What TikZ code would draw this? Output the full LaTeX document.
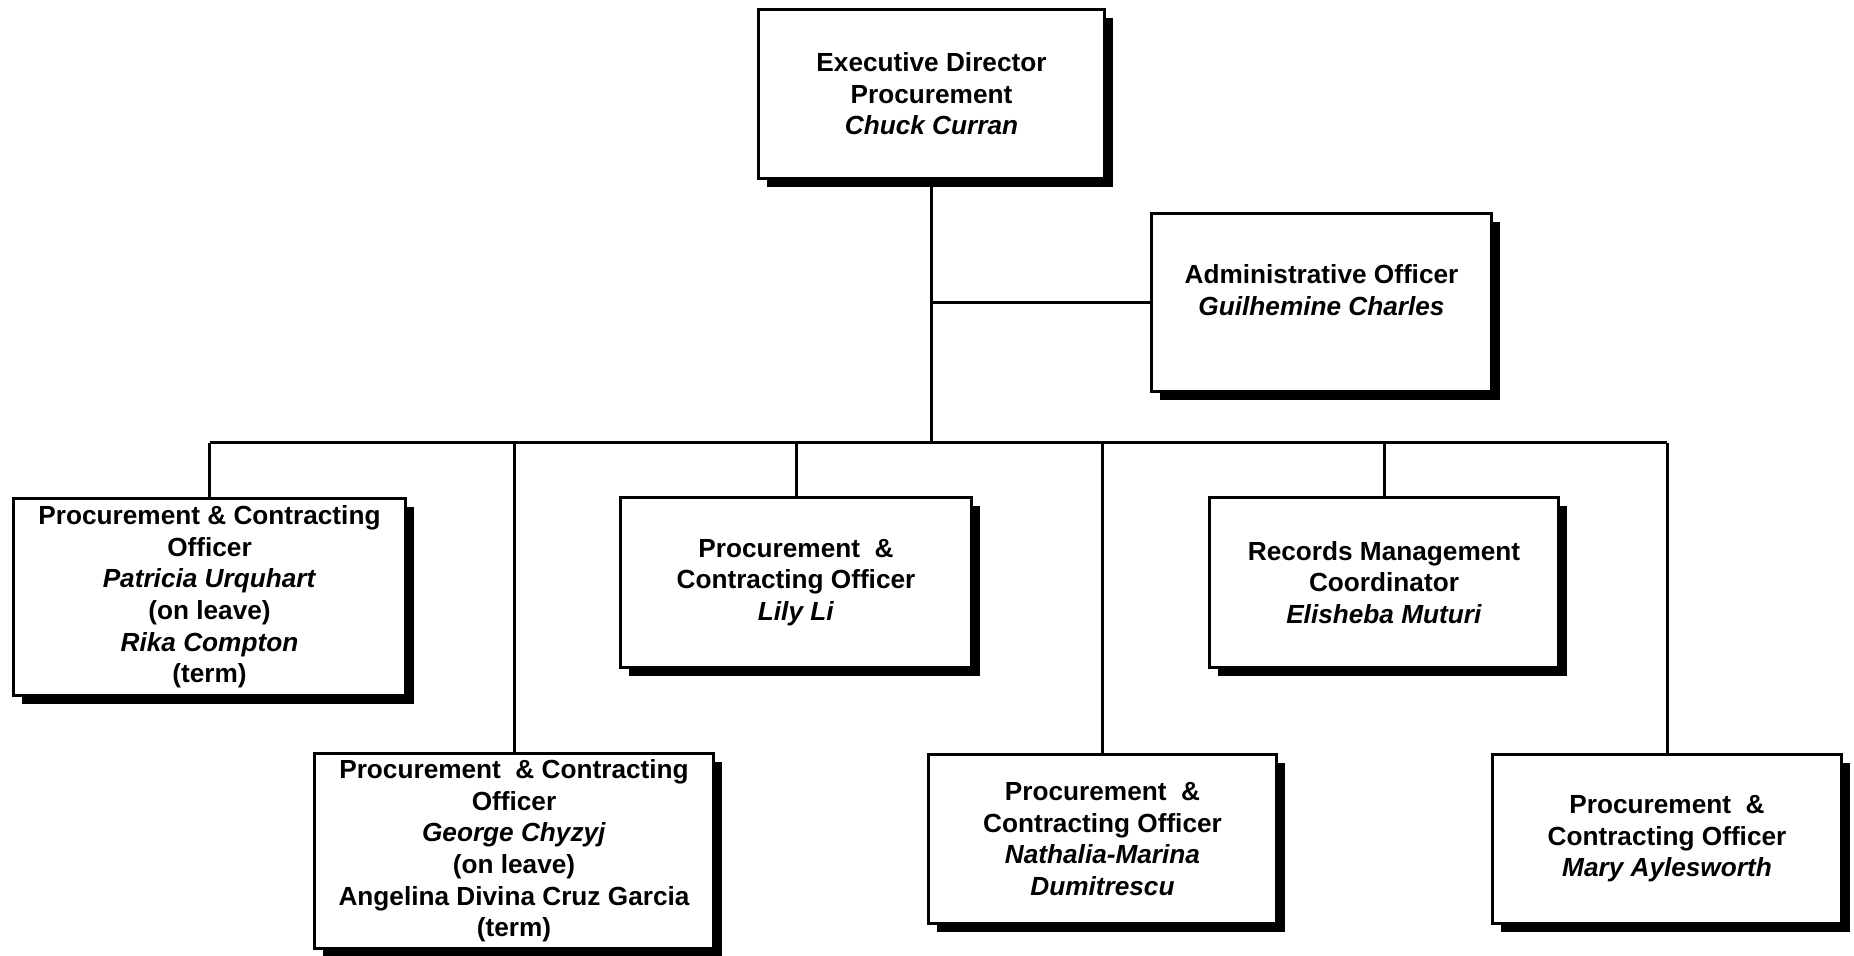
\documentclass[tikz,border=0pt]{standalone}
\usepackage{fontspec}
\setmainfont{Liberation Sans}
\usetikzlibrary{shadows}
\begin{document}
\begin{tikzpicture}[x=0.5pt,y=-0.5pt,
  orgbox/.style={draw=black,line width=1.9pt,fill=white,align=center,
    font=\fontsize{13.1pt}{15.8pt}\selectfont\bfseries,inner sep=0pt,
    drop shadow={shadow xshift=4.2pt,shadow yshift=-4.2pt,opacity=1,fill=black}},
  txt/.style={align=center,font=\fontsize{13.1pt}{15.8pt}\selectfont\bfseries,inner sep=0pt},
  conn/.style={line width=1.5pt}]
\useasboundingbox (0,0) rectangle (1854,956);
\fill[white] (0,0) rectangle (1854,956);
% boxes
\node[orgbox,minimum width=173pt,minimum height=84.5pt] (ed) at (931.5,94)
  {Executive Director\\Procurement\\\textit{Chuck Curran}};
\node[orgbox,minimum width=170pt,minimum height=89pt] (adm) at (1321.5,302.5) {};
\node[txt] (admt) at (1321.5,290) {Administrative Officer\\\textit{Guilhemine Charles}};
\node[orgbox,minimum width=196pt,minimum height=98.5pt] (pu) at (209.5,597)
  {Procurement \& Contracting\\Officer\\\textit{Patricia Urquhart}\\(on leave)\\\textit{Rika Compton}\\(term)};
\node[orgbox,minimum width=199.5pt,minimum height=97.5pt] (gc) at (514,851)
  {Procurement~ \& Contracting\\Officer\\\textit{George Chyzyj}\\(on leave)\\Angelina Divina Cruz Garcia\\(term)};
\node[orgbox,minimum width=175.5pt,minimum height=85pt] (ll) at (796,582.5)
  {Procurement~ \&\\Contracting Officer\\\textit{Lily Li}};
\node[orgbox,minimum width=174.5pt,minimum height=85pt] (rm) at (1384,582.5)
  {Records Management\\Coordinator\\\textit{Elisheba Muturi}};
\node[orgbox,minimum width=174pt,minimum height=84.5pt] (nd) at (1102.5,839)
  {Procurement~ \&\\Contracting Officer\\\textit{Nathalia-Marina}\\\textit{Dumitrescu}};
\node[orgbox,minimum width=174.5pt,minimum height=84.5pt] (ma) at (1667,839)
  {Procurement~ \&\\Contracting Officer\\\textit{Mary Aylesworth}};
% connectors
\coordinate (bus) at (931,443);
\draw[conn] (ed.south) -- (ed.south |- bus);
\draw[conn] (ed.south |- adm.west) -- (adm.west);
\draw[conn] (pu.north |- bus) -- (ma.north |- bus);
\draw[conn] (pu.north) -- (pu.north |- bus);
\draw[conn] (gc.north) -- (gc.north |- bus);
\draw[conn] (ll.north) -- (ll.north |- bus);
\draw[conn] (nd.north) -- (nd.north |- bus);
\draw[conn] (rm.north) -- (rm.north |- bus);
\draw[conn] (ma.north) -- (ma.north |- bus);
\end{tikzpicture}
\end{document}
